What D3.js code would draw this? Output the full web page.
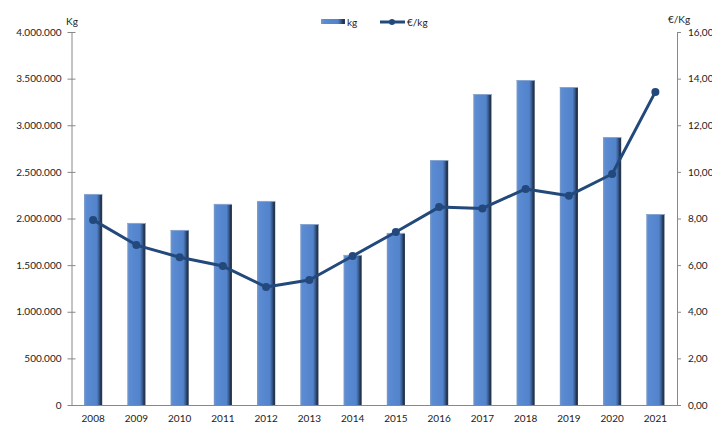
<!DOCTYPE html>
<html><head><meta charset="utf-8">
<script src="https://cdn.jsdelivr.net/npm/d3@7"></script>
<style>body{margin:0;background:#fff}svg{display:block}text{font-family:Lato,"Open Sans",sans-serif;font-size:10px;fill:#222}</style>
</head><body><svg id="c" width="712" height="435"></svg>
<script>
const years = ["2008","2009","2010","2011","2012","2013","2014","2015","2016","2017","2018","2019","2020","2021"];
const kg = [2263000,1952000,1877000,2156000,2188000,1941000,1609000,1845000,2627000,3335000,3485000,3410000,2874000,2048000];
const eurKg = [7.94,6.86,6.34,5.96,5.06,5.36,6.39,7.42,8.49,8.43,9.27,8.98,9.91,13.43];
const leftTicks = [0,500000,1000000,1500000,2000000,2500000,3000000,3500000,4000000];
const rightTicks = [0,2,4,6,8,10,12,14,16];

const svg = d3.select("#c");
const L = 71.5, R = 677, T = 32, B = 405;
const x = d3.scaleBand().domain(years).range([L, R]).paddingInner(0.58).paddingOuter(0.29);
const yL = d3.scaleLinear().domain([0,4000000]).range([B, T]);
const yR = d3.scaleLinear().domain([0,16]).range([B, T]);
const fmtL = d => d3.format(",")(d).replace(/,/g, ".");
const fmtR = d => d.toFixed(2).replace(".", ",");

const defs = svg.append("defs");
const g = defs.append("linearGradient").attr("id","bar").attr("x1","0").attr("x2","1").attr("y1","0").attr("y2","0");
[["0%","#7d9bc6"],["12%","#5b8bd2"],["70%","#5283cb"],["82%","#3a5f94"],["92%","#22344f"],["100%","#2a3a52"]]
  .forEach(([o,c]) => g.append("stop").attr("offset",o).attr("stop-color",c));

// bars
svg.append("g").selectAll("rect").data(years).join("rect")
  .attr("x", d => x(d)).attr("width", x.bandwidth())
  .attr("y", (d,i) => yL(kg[i])).attr("height", (d,i) => B - yL(kg[i]))
  .attr("fill", "url(#bar)");
svg.append("g").selectAll("line").data(years).join("line")
  .attr("x1", d => x(d)).attr("x2", d => x(d) + x.bandwidth())
  .attr("y1", (d,i) => yL(kg[i]) + 0.5).attr("y2", (d,i) => yL(kg[i]) + 0.5)
  .attr("stroke", "#8aa6d0").attr("stroke-width", 1);

// axes
const axL = svg.append("g").attr("transform", `translate(${L},0)`)
  .call(d3.axisLeft(yL).tickValues(leftTicks).tickFormat(fmtL).tickSizeInner(4).tickSizeOuter(0).tickPadding(6));
axL.selectAll(".tick line").attr("x2", 4).attr("x1", -4);
const axR = svg.append("g").attr("transform", `translate(${R},0)`)
  .call(d3.axisRight(yR).tickValues(rightTicks).tickFormat(fmtR).tickSizeInner(4).tickSizeOuter(0).tickPadding(7));
const axB = svg.append("g").attr("transform", `translate(0,${B})`)
  .call(d3.axisBottom(x).tickSize(0).tickSizeOuter(0).tickPadding(10));
axB.select(".domain").attr("d", `M${L},0.5H${R}`);
[axL, axR, axB].forEach(a => {
  a.selectAll(".domain, .tick line").attr("stroke", "#888");
  a.selectAll("text").attr("fill", "#222").style("font-family","Lato,'Open Sans',sans-serif").style("font-size","10px");
});

// line
const lineCol = "#23497c";
svg.append("path").datum(eurKg)
  .attr("d", d3.line().x((d,i) => x(years[i]) + x.bandwidth()/2).y(d => yR(d)))
  .attr("fill","none").attr("stroke", lineCol).attr("stroke-width", 3).attr("stroke-linejoin","round");
svg.append("g").selectAll("circle").data(eurKg).join("circle")
  .attr("cx", (d,i) => x(years[i]) + x.bandwidth()/2).attr("cy", d => yR(d))
  .attr("r", 4).attr("fill", lineCol);

// axis titles
svg.append("text").attr("x", 66).attr("y", 25).text("Kg");
svg.append("text").attr("x", 668).attr("y", 23).text("€/Kg");

// legend
svg.append("rect").attr("x", 321).attr("y", 19).attr("width", 24).attr("height", 5).attr("fill", "url(#bar)");
svg.append("text").attr("x", 347).attr("y", 26).text("kg");
svg.append("line").attr("x1", 380).attr("x2", 405).attr("y1", 22).attr("y2", 22).attr("stroke", lineCol).attr("stroke-width", 3);
svg.append("circle").attr("cx", 392).attr("cy", 22).attr("r", 3).attr("fill", lineCol);
svg.append("text").attr("x", 407).attr("y", 26).text("€/kg");
</script></body></html>
